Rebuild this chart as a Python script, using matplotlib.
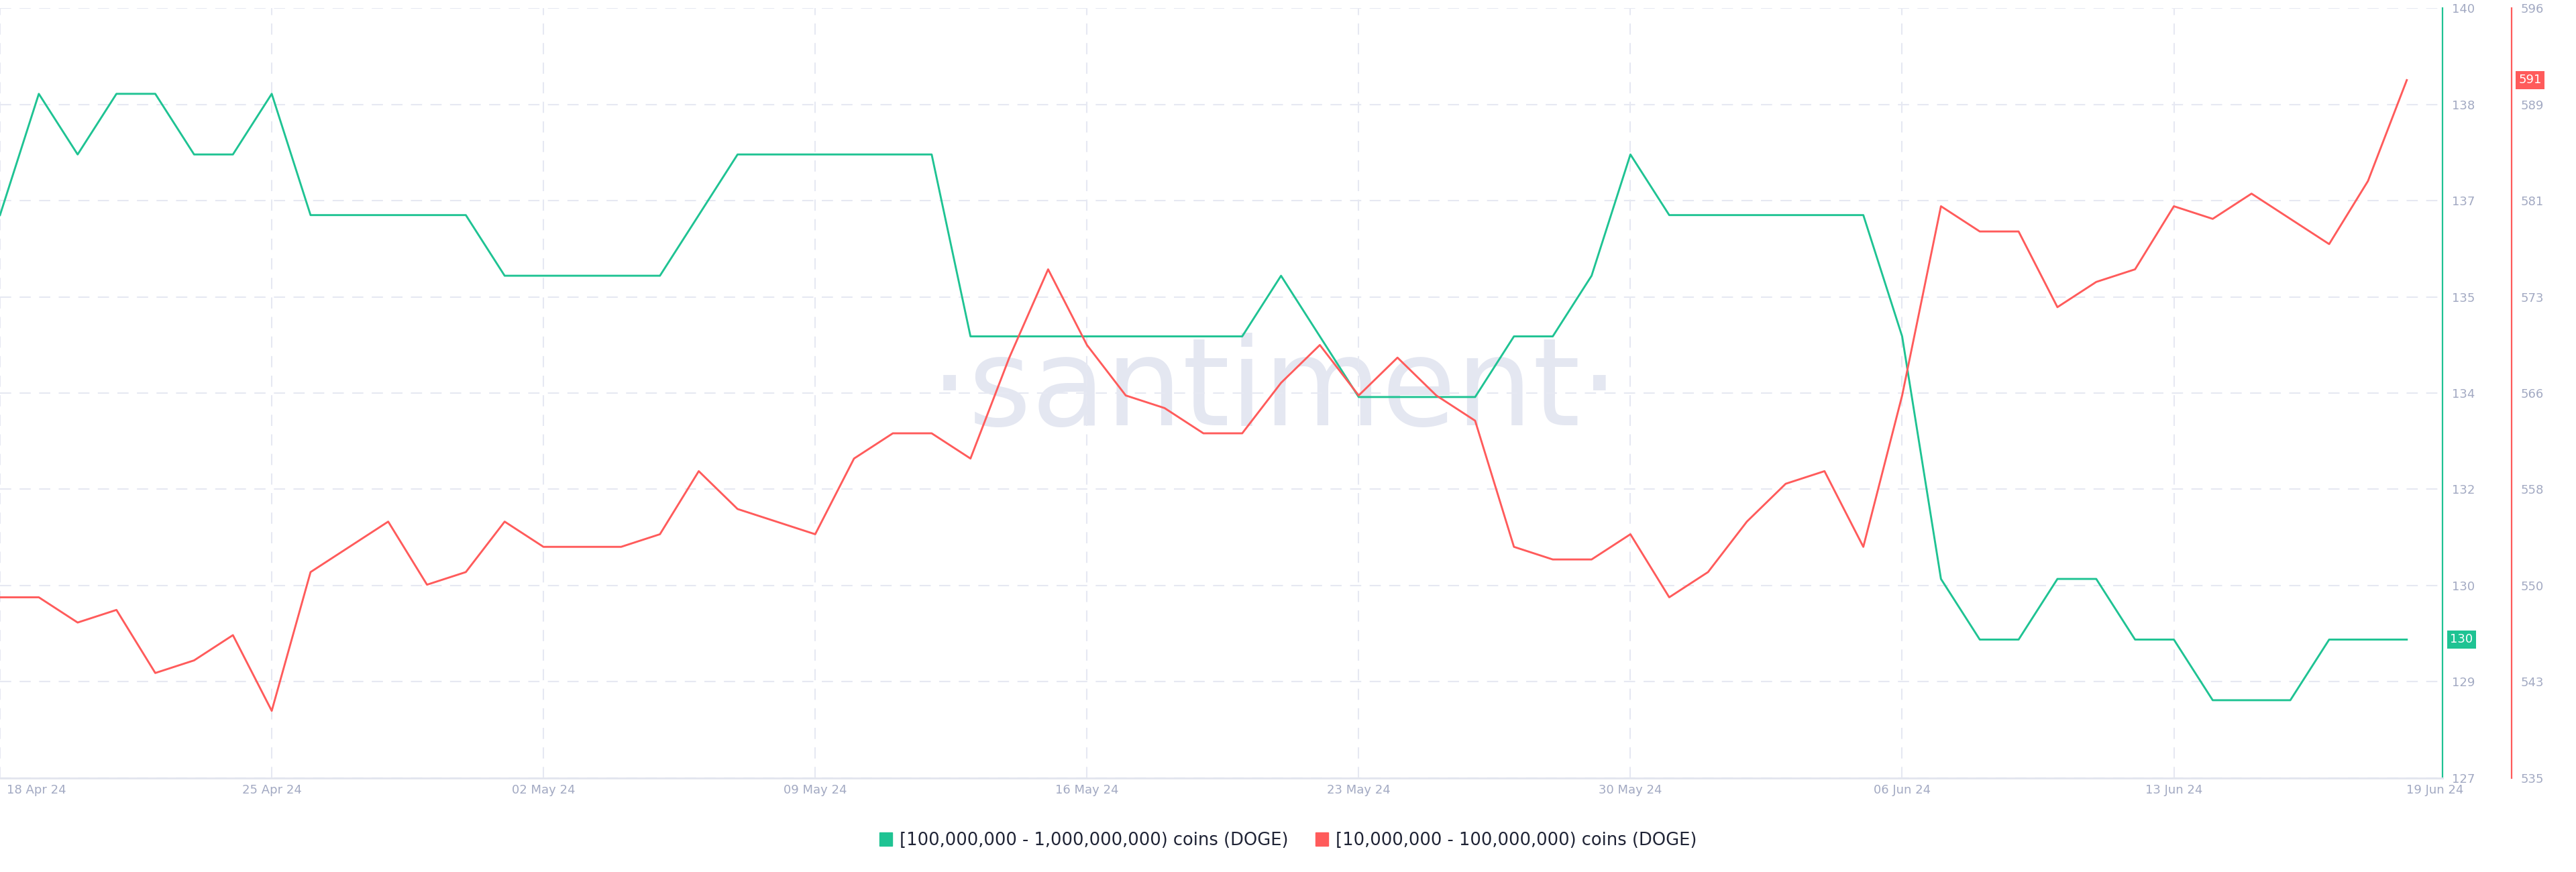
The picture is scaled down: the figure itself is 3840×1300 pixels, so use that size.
import matplotlib
matplotlib.use("Agg")
import matplotlib.pyplot as plt  # noqa: E402
import matplotlib.dates as mdates  # noqa: E402
import matplotlib.transforms as mtrans  # noqa: E402
import numpy as np  # noqa: E402
import pandas as pd  # noqa: E402
from matplotlib.patches import Patch  # noqa: E402
from matplotlib.ticker import FuncFormatter  # noqa: E402

# daily DOGE holder counts per supply band, 18 Apr - 19 Jun 2024
DATES = pd.date_range("2024-04-18", "2024-06-19", freq="D")
HOLDERS_100M_1B = [137, 139, 138, 139, 139, 138, 138, 139, 137, 137,
                   137, 137, 137, 136, 136, 136, 136, 136, 137, 138,
                   138, 138, 138, 138, 138, 135, 135, 135, 135, 135,
                   135, 135, 135, 136, 135, 134, 134, 134, 134, 135,
                   135, 136, 138, 137, 137, 137, 137, 137, 137, 135,
                   131, 130, 130, 131, 131, 130, 130, 129, 129, 129,
                   130, 130, 130]
HOLDERS_10M_100M = [550, 550, 548, 549, 544, 545, 547, 541, 552, 554,
                    556, 551, 552, 556, 554, 554, 554, 555, 560, 557,
                    556, 555, 561, 563, 563, 561, 569, 576, 570, 566,
                    565, 563, 563, 567, 570, 566, 569, 566, 564, 554,
                    553, 553, 555, 550, 552, 556, 559, 560, 554, 566,
                    581, 579, 579, 573, 575, 576, 581, 580, 582, 580,
                    578, 583, 591]
LABEL_BIG = "[100,000,000 - 1,000,000,000) coins (DOGE)"
LABEL_SMALL = "[10,000,000 - 100,000,000) coins (DOGE)"
GREEN_LIM = (127.72, 140.41)
RED_LIM = (535.69, 596.69)
WEEK_TICKS = pd.date_range("2024-04-18", "2024-06-13", freq="7D")
LAST_TICK = pd.Timestamp("2024-06-19")

GREEN = "#1fc393"
RED = "#ff5b5b"
GRID = "#e6e8f2"
TICK_C = "#a2a9c2"

plt.rcParams["font.family"] = ["DejaVu Sans"]

fig = plt.figure(figsize=(38.4, 13), dpi=100)
ax = fig.add_axes([0, 140.4 / 1300, 3641 / 3840, 1147.2 / 1300])
ax2 = ax.twinx()
ax2.patch.set_visible(False)

x0 = mdates.date2num(DATES[0])
ax.set_xlim(x0, x0 + 62.92)
ax.set_ylim(*GREEN_LIM)
ax2.set_ylim(*RED_LIM)

ax.text(0.522, 0.458, "\u00b7santiment\u00b7", transform=ax.transAxes, ha="center",
        va="baseline", fontsize=130, color="#e4e7f1", zorder=0)

ax.plot(DATES, HOLDERS_100M_1B, color=GREEN, lw=2.1, zorder=3)
ax2.plot(DATES, HOLDERS_10M_100M, color=RED, lw=2.1, zorder=3)

dash = (0, (8, 6))
ax.set_yticks(np.linspace(*GREEN_LIM, 9))
ax2.set_yticks(np.linspace(*RED_LIM, 9))
floor_fmt = FuncFormatter(lambda v, p: f"{int(np.floor(v + 1e-6))}")
ax.yaxis.set_major_formatter(floor_fmt)
ax2.yaxis.set_major_formatter(floor_fmt)
ax.yaxis.grid(True, color=GRID, linestyle=dash, linewidth=1.5)
for d in WEEK_TICKS:
    ax.axvline(d, color=GRID, linestyle=dash, linewidth=1.5, zorder=0.5)

ax.yaxis.tick_right()
ax.tick_params(axis="y", length=0, pad=10, labelsize=13, labelcolor=TICK_C)
ax2.tick_params(axis="y", length=0, pad=9.5, labelsize=13, labelcolor=TICK_C)

ax.set_xticks(list(WEEK_TICKS) + [LAST_TICK])
ax.xaxis.set_major_formatter(mdates.DateFormatter("%d %b %y"))
ax.tick_params(axis="x", length=0, pad=7, labelsize=13, labelcolor=TICK_C)
xl = ax.get_xticklabels()
xl[0].set_ha("left")
xl[0].set_transform(xl[0].get_transform() + mtrans.ScaledTranslation(0.10, 0, fig.dpi_scale_trans))
xl[-1].set_transform(xl[-1].get_transform() + mtrans.ScaledTranslation(0.42, 0, fig.dpi_scale_trans))

for s in ("left", "top"):
    ax.spines[s].set_visible(False)
ax.spines["bottom"].set_color("#e2e5ee")
ax.spines["bottom"].set_linewidth(2)
ax.spines["right"].set_color(GREEN)
ax.spines["right"].set_linewidth(1.6)
for s in ("left", "top", "bottom"):
    ax2.spines[s].set_visible(False)
ax2.spines["right"].set_position(("outward", 74.2))
ax2.spines["right"].set_color(RED)
ax2.spines["right"].set_linewidth(1.6)

# last-value badges on both axes
box = dict(boxstyle="square,pad=0.25", ec="none")
ax.text(1, HOLDERS_100M_1B[-1], f"{HOLDERS_100M_1B[-1]}", color="white", fontsize=13,
        ha="left", va="center", bbox={**box, "fc": GREEN},
        transform=ax.get_yaxis_transform() + mtrans.ScaledTranslation(0.113, 0, fig.dpi_scale_trans))
ax2.text(1, HOLDERS_10M_100M[-1], f"{HOLDERS_10M_100M[-1]}", color="white", fontsize=13,
         ha="left", va="center", bbox={**box, "fc": RED},
         transform=ax2.get_yaxis_transform() + mtrans.ScaledTranslation(1.133, 0, fig.dpi_scale_trans))

handles = [Patch(color=GREEN, label=LABEL_BIG), Patch(color=RED, label=LABEL_SMALL)]
fig.legend(handles=handles, loc="center", bbox_to_anchor=(0.5, 1 - 1253 / 1300), ncol=2,
           frameon=False, fontsize=18.5, handlelength=0.75, handleheight=0.8,
           handletextpad=0.4, columnspacing=1.6, labelcolor="#1f2335")

fig.savefig("out.png", dpi=100)
